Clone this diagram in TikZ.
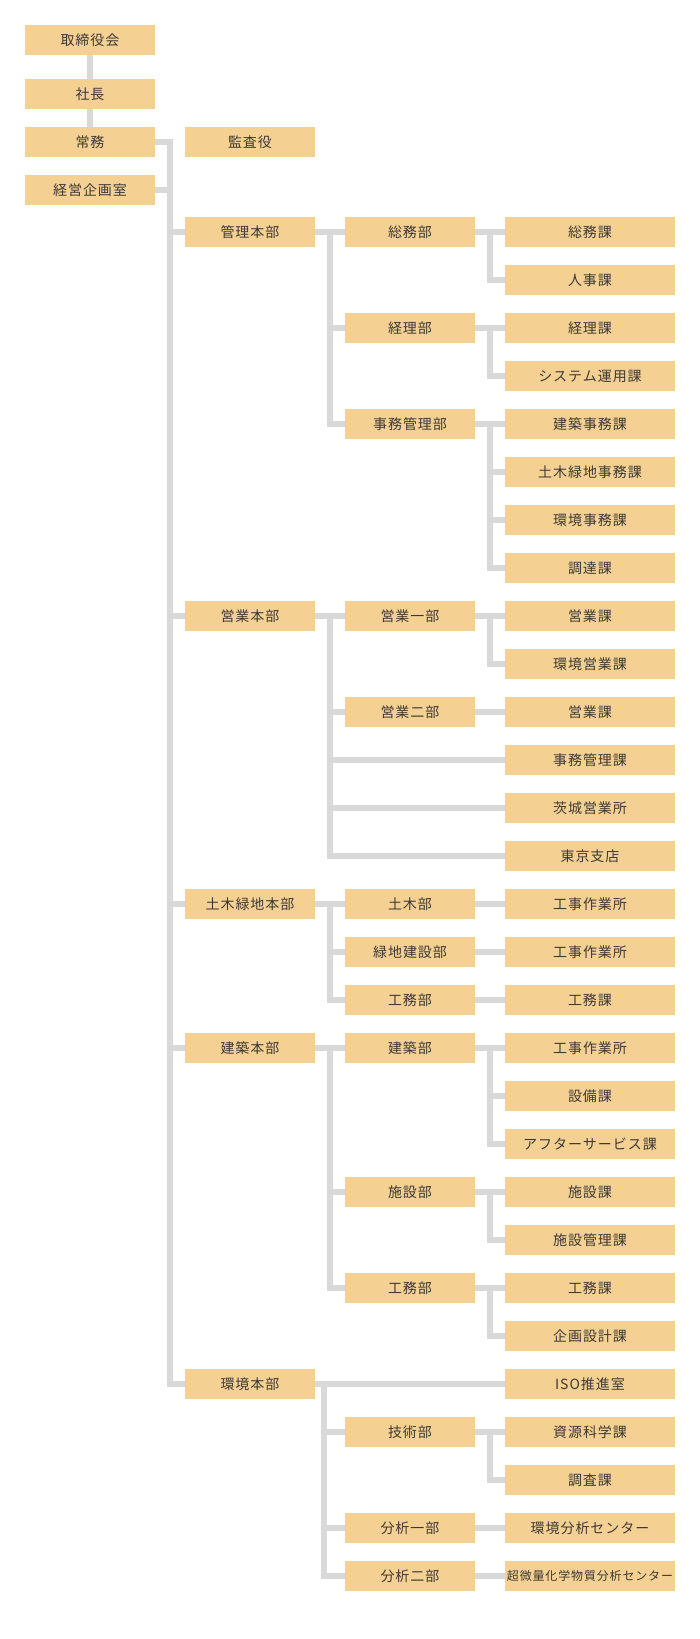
\documentclass[tikz,border=0pt]{standalone}
\usepackage{fontspec}
\setmainfont{Noto Sans CJK JP}[LetterSpace=7]
\usepackage{tikz}
\usepackage{xcolor}
\usetikzlibrary{positioning, calc}
\definecolor{boxfill}{HTML}{F4D093}
\definecolor{boxtext}{HTML}{3C3A36}
\definecolor{linegray}{HTML}{D9D9D9}
\tikzstyle{blockn} = [rectangle, fill=boxfill, text=boxtext, minimum width=130pt, minimum height=30pt, inner sep=0pt, outer sep=0pt, font=\fontsize{14pt}{16pt}\selectfont]
\tikzstyle{blockw} = [blockn, minimum width=170pt]
\tikzstyle{line} = [draw=linegray, line width=6pt]

\begin{document}
\begin{tikzpicture}[node distance=18pt and 30pt]
\useasboundingbox (0,0) rectangle (700pt,-1639pt);

% top
\node [blockn] (torishimari) at (90pt,-40pt) {取締役会};
\node [blockn, below=24pt of torishimari] (shacho) {社長};
\node [blockn, below=of shacho] (jomu) {常務};
\node [blockn, below=of jomu] (kikaku) {経営企画室};
\node [blockn, right=of jomu] (kansa) {監査役};

% kanri
\node [blockn, below=60pt of kansa] (kanri) {管理本部};
\node [blockn, right=of kanri] (somubu) {総務部};
\node [blockw, right=of somubu] (somuka) {総務課};
\node [blockw, below=of somuka] (jinjika) {人事課};
\node [blockw, below=of jinjika] (keirika) {経理課};
\node [blockn, left=of keirika] (keiribu) {経理部};
\node [blockw, below=of keirika] (systemka) {システム運用課};
\node [blockw, below=of systemka] (kenchikujimu) {建築事務課};
\node [blockn, left=of kenchikujimu] (jimukanribu) {事務管理部};
\node [blockw, below=of kenchikujimu] (dobokujimu) {土木緑地事務課};
\node [blockw, below=of dobokujimu] (kankyojimu) {環境事務課};
\node [blockw, below=of kankyojimu] (chotatsu) {調達課};

% eigyo
\node [blockw, below=of chotatsu] (eigyoka1) {営業課};
\node [blockn, left=of eigyoka1] (eigyo1) {営業一部};
\node [blockn, left=of eigyo1] (eigyo) {営業本部};
\node [blockw, below=of eigyoka1] (kankyoeigyo) {環境営業課};
\node [blockw, below=of kankyoeigyo] (eigyoka2) {営業課};
\node [blockn, left=of eigyoka2] (eigyo2) {営業二部};
\node [blockw, below=of eigyoka2] (jimukanrika) {事務管理課};
\node [blockw, below=of jimukanrika] (ibaraki) {茨城営業所};
\node [blockw, below=of ibaraki] (tokyo) {東京支店};

% doboku
\node [blockw, below=of tokyo] (koji1) {工事作業所};
\node [blockn, left=of koji1] (dobokubu) {土木部};
\node [blockn, left=of dobokubu] (doboku) {土木緑地本部};
\node [blockw, below=of koji1] (koji2) {工事作業所};
\node [blockn, left=of koji2] (ryokuchibu) {緑地建設部};
\node [blockw, below=of koji2] (komuka1) {工務課};
\node [blockn, left=of komuka1] (komubu1) {工務部};

% kenchiku
\node [blockw, below=of komuka1] (koji3) {工事作業所};
\node [blockn, left=of koji3] (kenchikubu) {建築部};
\node [blockn, left=of kenchikubu] (kenchiku) {建築本部};
\node [blockw, below=of koji3] (setsubi) {設備課};
\node [blockw, below=of setsubi] (after) {アフターサービス課};
\node [blockw, below=of after] (shisetsuka) {施設課};
\node [blockn, left=of shisetsuka] (shisetsubu) {施設部};
\node [blockw, below=of shisetsuka] (shisetsukanri) {施設管理課};
\node [blockw, below=of shisetsukanri] (komuka2) {工務課};
\node [blockn, left=of komuka2] (komubu2) {工務部};
\node [blockw, below=of komuka2] (kikakusekkei) {企画設計課};

% kankyo
\node [blockw, below=of kikakusekkei] (iso) {ISO推進室};
\node [blockn, left=190pt of iso] (kankyo) {環境本部};
\node [blockw, below=of iso] (shigen) {資源科学課};
\node [blockn, left=of shigen] (gijutsubu) {技術部};
\node [blockw, below=of shigen] (chosa) {調査課};
\node [blockw, below=of chosa] (kankyobunseki) {環境分析センター};
\node [blockn, left=of kankyobunseki] (bunseki1) {分析一部};
\node [blockw, below=of kankyobunseki, font=\fontsize{12pt}{14pt}\selectfont] (chobiryo) {超微量化学物質分析センター};
\node [blockn, left=of chobiryo] (bunseki2) {分析二部};

% split points
\coordinate (trunk) at ($(jomu.east)!.5!(kansa.west)$);
\coordinate (kanri-s) at ($(kanri.east)!.5!(somubu.west)$);
\coordinate (eigyo-s) at ($(eigyo.east)!.5!(eigyo1.west)$);
\coordinate (doboku-s) at ($(doboku.east)!.5!(dobokubu.west)$);
\coordinate (kenchiku-s) at ($(kenchiku.east)!.5!(kenchikubu.west)$);
\coordinate (kankyo-s) at ([xshift=9pt]kankyo.east);
\coordinate (somubu-s) at ($(somubu.east)!.5!(somuka.west)$);
\coordinate (keiribu-s) at ($(keiribu.east)!.5!(keirika.west)$);
\coordinate (jimukanribu-s) at ($(jimukanribu.east)!.5!(kenchikujimu.west)$);
\coordinate (eigyo1-s) at ($(eigyo1.east)!.5!(eigyoka1.west)$);
\coordinate (kenchikubu-s) at ($(kenchikubu.east)!.5!(koji3.west)$);
\coordinate (shisetsubu-s) at ($(shisetsubu.east)!.5!(shisetsuka.west)$);
\coordinate (komubu2-s) at ($(komubu2.east)!.5!(komuka2.west)$);
\coordinate (gijutsubu-s) at ($(gijutsubu.east)!.5!(shigen.west)$);

% top lines
\path [line] (torishimari) -- (shacho);
\path [line] (shacho) -- (jomu);
\path [line] (jomu.east) -- (trunk) |- (kankyo.west);
\path [line] (kikaku.east) -- (kikaku.east -| trunk);
\path [line] (kanri.west) -- (kanri.west -| trunk);
\path [line] (eigyo.west) -- (eigyo.west -| trunk);
\path [line] (doboku.west) -- (doboku.west -| trunk);
\path [line] (kenchiku.west) -- (kenchiku.west -| trunk);

% kanri lines
\path [line] (kanri) -- (somubu);
\path [line] (kanri-s) |- (keiribu.west);
\path [line] (kanri-s) |- (jimukanribu.west);
\path [line] (somubu) -- (somuka);
\path [line] (somubu-s) |- (jinjika.west);
\path [line] (keiribu) -- (keirika);
\path [line] (keiribu-s) |- (systemka.west);
\path [line] (jimukanribu) -- (kenchikujimu);
\path [line] (jimukanribu-s) |- (dobokujimu.west);
\path [line] (jimukanribu-s) |- (kankyojimu.west);
\path [line] (jimukanribu-s) |- (chotatsu.west);

% eigyo lines
\path [line] (eigyo) -- (eigyo1);
\path [line] (eigyo-s) |- (eigyo2.west);
\path [line] (eigyo-s) |- (jimukanrika.west);
\path [line] (eigyo-s) |- (ibaraki.west);
\path [line] (eigyo-s) |- (tokyo.west);
\path [line] (eigyo1) -- (eigyoka1);
\path [line] (eigyo1-s) |- (kankyoeigyo.west);
\path [line] (eigyo2) -- (eigyoka2);

% doboku lines
\path [line] (doboku) -- (dobokubu);
\path [line] (doboku-s) |- (ryokuchibu.west);
\path [line] (doboku-s) |- (komubu1.west);
\path [line] (dobokubu) -- (koji1);
\path [line] (ryokuchibu) -- (koji2);
\path [line] (komubu1) -- (komuka1);

% kenchiku lines
\path [line] (kenchiku) -- (kenchikubu);
\path [line] (kenchiku-s) |- (shisetsubu.west);
\path [line] (kenchiku-s) |- (komubu2.west);
\path [line] (kenchikubu) -- (koji3);
\path [line] (kenchikubu-s) |- (setsubi.west);
\path [line] (kenchikubu-s) |- (after.west);
\path [line] (shisetsubu) -- (shisetsuka);
\path [line] (shisetsubu-s) |- (shisetsukanri.west);
\path [line] (komubu2) -- (komuka2);
\path [line] (komubu2-s) |- (kikakusekkei.west);

% kankyo lines
\path [line] (kankyo) -- (iso);
\path [line] (kankyo-s) |- (gijutsubu.west);
\path [line] (kankyo-s) |- (bunseki1.west);
\path [line] (kankyo-s) |- (bunseki2.west);
\path [line] (gijutsubu) -- (shigen);
\path [line] (gijutsubu-s) |- (chosa.west);
\path [line] (bunseki1) -- (kankyobunseki);
\path [line] (bunseki2) -- (chobiryo);

\end{tikzpicture}
\end{document}
